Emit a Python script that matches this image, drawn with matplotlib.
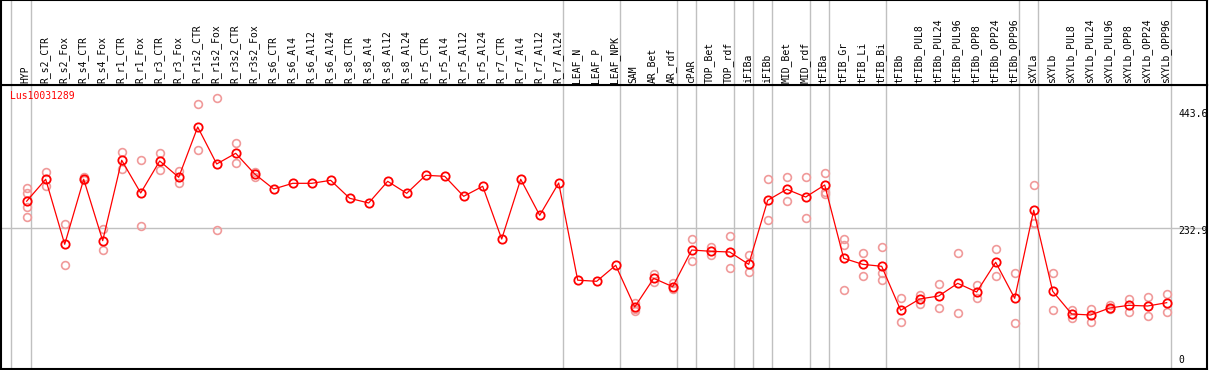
import matplotlib
matplotlib.use("Agg")
import matplotlib.pyplot as plt
import matplotlib.transforms as mtransforms

# --- data ---
samples = ["HYP", "R_s2_CTR", "R_s2_Fox", "R_s4_CTR", "R_s4_Fox", "R_r1_CTR", "R_r1_Fox",
           "R_r3_CTR", "R_r3_Fox", "R_r1s2_CTR", "R_r1s2_Fox", "R_r3s2_CTR", "R_r3s2_Fox",
           "R_s6_CTR", "R_s6_Al4", "R_s6_Al12", "R_s6_Al24", "R_s8_CTR", "R_s8_Al4",
           "R_s8_Al12", "R_s8_Al24", "R_r5_CTR", "R_r5_Al4", "R_r5_Al12", "R_r5_Al24",
           "R_r7_CTR", "R_r7_Al4", "R_r7_Al12", "R_r7_Al24", "LEAF_N", "LEAF_P", "LEAF_NPK",
           "SAM", "AR_Bet", "AR_rdf", "cPAR", "TOP_Bet", "TOP_rdf", "iFIBa", "iFIBb",
           "MID_Bet", "MID_rdf", "tFIBa", "tFIB_Gr", "tFIB_Li", "tFIB_Bi", "tFIBb",
           "tFIBb_PUL8", "tFIBb_PUL24", "tFIBb_PUL96", "tFIBb_OPP8", "tFIBb_OPP24",
           "tFIBb_OPP96", "sXYLa", "sXYLb", "sXYLb_PUL8", "sXYLb_PUL24", "sXYLb_PUL96",
           "sXYLb_OPP8", "sXYLb_OPP24", "sXYLb_OPP96"]

means = [282, 321.6, 204, 321.6, 210.5, 356, 296.8, 354.7, 325.2, 416.2, 349.3, 368.6, 331.2,
         304, 314.3, 314.3, 319.7, 287.2, 278.7, 317.9, 296.2, 328.8, 327, 290.8, 308.9,
         213.5, 321.6, 256.4, 314.9, 139, 137, 166, 90.5, 142.4, 127.2, 193.6, 191.3, 190,
         167.7, 283.6, 303.5, 289.5, 311.3, 178.6, 167.7, 164.1, 84.5, 105, 110.4, 133.3,
         117.6, 171.4, 106.2, 265.5, 118.9, 77.8, 76, 88.7, 93.5, 92.3, 98.3]

replicates = [
    [305, 297, 272, 253], [334.8, 309.4], [240, 166.5], [325, 320], [231.6, 193],
    [370.4, 340.8], [356, 236.5], [368.6, 339], [336.6, 315.4], [457.3, 374],
    [468, 229.3], [386.7, 350.5], [335.4, 325.2],
    [], [], [], [], [], [], [], [], [], [], [], [], [], [], [], [], [], [], [],
    [97, 86, 83.8], [150.7, 136.3], [133.3, 122.5], [213, 173.2], [199.6, 185.1],
    [218.4, 160.5], [184, 153.3], [321.6, 247.4], [325.7, 281.7], [325.7, 251],
    [333, 299, 295], [213, 202, 120.7], [187.7, 147], [198.5, 151.4, 139.9],
    [106.2, 62.8], [112.2, 95.4], [131.6, 88], [188.2, 79], [130.3, 106.2],
    [195.4, 146], [151.4, 61.5], [311.3, 243, 243], [151.4, 84.5], [85, 71.1],
    [87.4, 63.3], [94.1, 86.3], [105, 81.4], [108.6, 73.7], [113.5, 82],
]

# group separators (after these sample indices)
group_ends = [-1, 0, 28, 31, 34, 35, 37, 38, 39, 41, 42, 45, 52, 53, 60]
ref_values = [443.6, 232.9, 0]
gene = "Lus10031289"

# --- figure ---
W, H = 1209, 370
fig = plt.figure(figsize=(W / 100, H / 100), dpi=100)
plt.rcParams['font.family'] = 'DejaVu Sans Mono'

x_left, x_right = 1, 1206.7
ax = fig.add_axes([x_left / W, 1 / H, (x_right - x_left) / W, 284 / H])
hd = fig.add_axes([x_left / W, (H - 85) / H, (x_right - x_left) / W, 85 / H])

# x: sample i sits at 26.7 + 19*i px
xl = ((x_left - 26.7) / 19, (x_right - 26.7) / 19)
for a in (ax, hd):
    a.set_xlim(*xl)
    a.set_xticks([])
    a.set_yticks([])
    for s in a.spines.values():
        s.set_linewidth(1.5)
        s.set_color('black')
    for g in group_ends:
        a.axvline(g + 0.2, color='#c0c0c0', lw=1.0, zorder=1)

ax.set_ylim(-21.7, 492.2)
hd.set_ylim(0, 85)

ax.axhline(232.9, color='#c0c0c0', lw=1.0, zorder=1)

xs = list(range(len(samples)))
for i, reps in enumerate(replicates):
    if reps:
        ax.plot([i] * len(reps), reps, linestyle='none', marker='o', ms=5.6,
                mfc='none', mec='#f09a9a', mew=1.2, zorder=2)
ax.plot(xs, means, color='red', lw=0.9, marker='o', ms=6.0, mfc='none',
        mec='red', mew=1.3, zorder=3)

# right-hand reference labels
trans = mtransforms.blended_transform_factory(ax.transAxes, ax.transData)
for v in ref_values:
    ax.annotate(f"{v:g}", xy=(0.9765, v), xycoords=trans, xytext=(0, -2.5),
                textcoords='offset pixels', ha='left', va='center', fontsize=7,
                annotation_clip=False)

ax.text(0.0075, 0.978, gene, transform=ax.transAxes, color='red', fontsize=7,
        ha='left', va='top', zorder=4)

# header labels
for i, name in enumerate(samples):
    hd.text(i - 0.05, 2, name, rotation=90, ha='center', va='bottom', fontsize=7)

fig.savefig("out.png", dpi=100)
